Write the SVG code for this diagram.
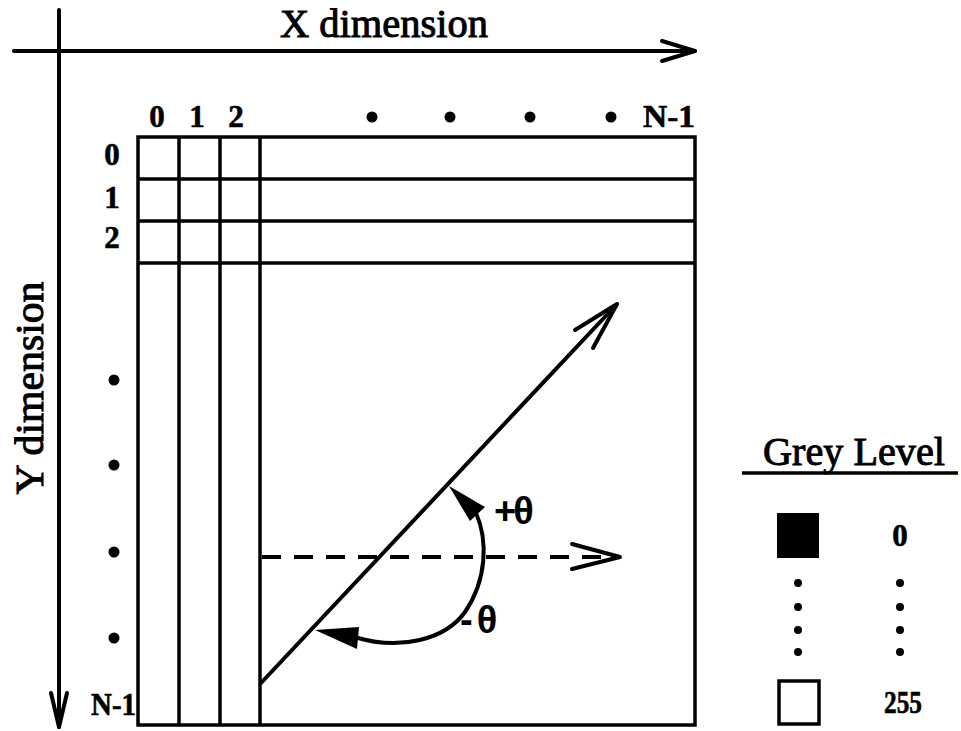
<svg xmlns="http://www.w3.org/2000/svg" width="961" height="731" viewBox="0 0 961 731">
<style>
.ln{stroke:#000;stroke-width:4;fill:none;stroke-linecap:round;stroke-linejoin:round}
.grid{stroke:#000;stroke-width:3.5;fill:none}
.lbl{font-family:"Liberation Serif","Times New Roman",serif;font-weight:bold;font-size:31px;fill:#000;stroke:#000;stroke-width:0.6}
.big{font-family:"Liberation Serif","Times New Roman",serif;font-size:41px;fill:#000;stroke:#000;stroke-width:1}
.th{font-family:"Liberation Sans",Arial,sans-serif;font-weight:bold;font-size:38px;fill:#000}
</style>
<rect width="961" height="731" fill="#fff"/>
<g id="axes">
  <line class="ln" x1="14" y1="51" x2="695" y2="51"/>
  <polyline class="ln" points="662,41 695,51 662,61"/>
  <line class="ln" x1="59" y1="10" x2="59" y2="727"/>
  <polyline class="ln" points="51,693 59,727 67,693"/>
  <text class="big" x="280" y="37" textLength="208" lengthAdjust="spacingAndGlyphs">X dimension</text>
  <text class="big" text-anchor="middle" transform="translate(43,388) rotate(-90)" textLength="213" lengthAdjust="spacingAndGlyphs">Y dimension</text>
</g>
<g id="grid">
  <rect class="grid" x="138" y="137" width="557" height="588"/>
  <line class="grid" x1="179" y1="137" x2="179" y2="725"/>
  <line class="grid" x1="220" y1="137" x2="220" y2="725"/>
  <line class="grid" x1="260" y1="137" x2="260" y2="725"/>
  <line class="grid" x1="138" y1="179" x2="695" y2="179"/>
  <line class="grid" x1="138" y1="221" x2="695" y2="221"/>
  <line class="grid" x1="138" y1="263" x2="695" y2="263"/>
</g>
<g id="col-labels">
  <text class="lbl" x="157" y="127" text-anchor="middle">0</text>
  <text class="lbl" x="197" y="127" text-anchor="middle">1</text>
  <text class="lbl" x="236" y="127" text-anchor="middle">2</text>
  <circle cx="372" cy="117" r="5.5"/>
  <circle cx="450" cy="117" r="5.5"/>
  <circle cx="530" cy="117" r="5.5"/>
  <circle cx="611" cy="117" r="5.5"/>
  <text class="lbl" x="695" y="127" text-anchor="end" textLength="52" lengthAdjust="spacingAndGlyphs">N-1</text>
</g>
<g id="row-labels">
  <text class="lbl" x="112" y="165" text-anchor="middle">0</text>
  <text class="lbl" x="112" y="208" text-anchor="middle">1</text>
  <text class="lbl" x="112" y="248" text-anchor="middle">2</text>
  <circle cx="114" cy="380" r="5.5"/>
  <circle cx="114" cy="465" r="5.5"/>
  <circle cx="114" cy="552" r="5.5"/>
  <circle cx="114" cy="638" r="5.5"/>
  <text class="lbl" x="136" y="715" text-anchor="end" textLength="45" lengthAdjust="spacingAndGlyphs">N-1</text>
</g>
<g id="connectors">
  <line class="ln" x1="261" y1="683" x2="617" y2="304"/>
  <polyline class="ln" points="575,330 617,304 593,348"/>
  <line stroke="#000" stroke-width="4" stroke-dasharray="19 13" x1="262" y1="557" x2="618" y2="557"/>
  <polyline class="ln" points="572,544 620,557 572,569"/>
  <path class="ln" d="M476,513 C488,540 487,580 465,612 C445,640 400,650 358,638"/>
  <polygon points="449,486 470,521 485,507" fill="#000"/>
  <polygon points="315,630 359,627 357,649" fill="#000"/>
</g>
<g id="angle-labels">
  <text class="th" x="494" y="524" letter-spacing="-3">+θ</text>
  <text class="th" x="460" y="633">-<tspan dx="4">θ</tspan></text>
</g>
<g id="legend">
  <text class="big" x="763" y="465" textLength="182" lengthAdjust="spacingAndGlyphs">Grey Level</text>
  <line stroke="#000" stroke-width="3.5" x1="742" y1="473" x2="958" y2="473"/>
  <rect x="777" y="513" width="42" height="45" fill="#000"/>
  <text class="lbl" x="900" y="546" text-anchor="middle">0</text>
  <circle cx="798" cy="583" r="4"/>
  <circle cx="798" cy="607" r="4"/>
  <circle cx="798" cy="630" r="4"/>
  <circle cx="798" cy="652" r="4"/>
  <circle cx="900" cy="583" r="4"/>
  <circle cx="900" cy="607" r="4"/>
  <circle cx="900" cy="630" r="4"/>
  <circle cx="900" cy="652" r="4"/>
  <rect x="779" y="681" width="40" height="43" fill="#fff" stroke="#000" stroke-width="3.5"/>
  <text class="lbl" x="903" y="713" text-anchor="middle" textLength="38" lengthAdjust="spacingAndGlyphs">255</text>
</g>
</svg>
